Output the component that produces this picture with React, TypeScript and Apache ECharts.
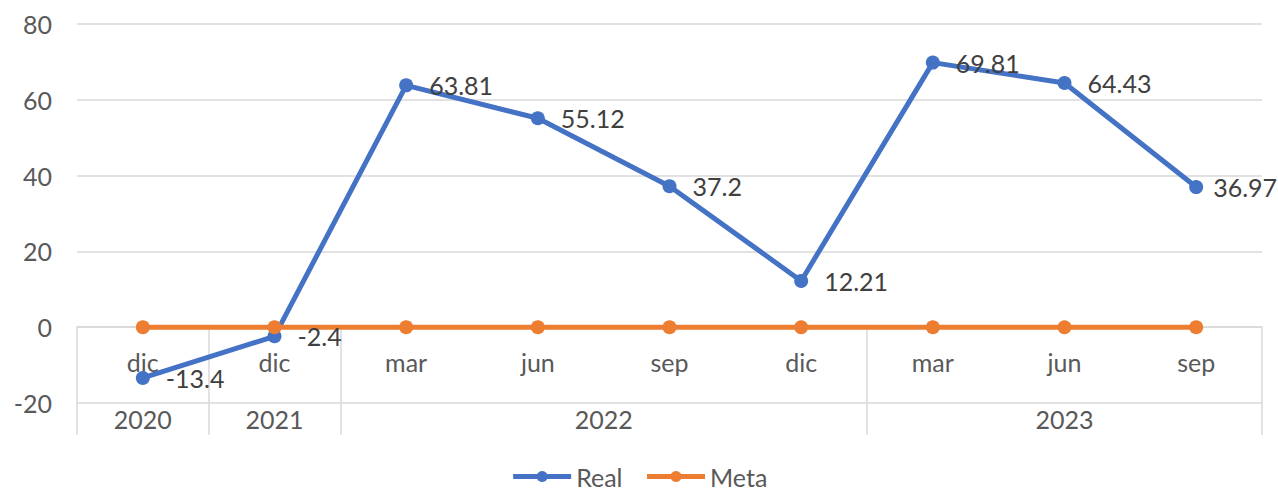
import React, { useEffect, useRef } from "react";
import * as echarts from "echarts";

const months = ["dic", "dic", "mar", "jun", "sep", "dic", "mar", "jun", "sep"];
const years = ["2020", "2021", "2022", "2023"];
const yearCounts = [1, 1, 4, 3];
const realValues = [-13.4, -2.4, 63.81, 55.12, 37.2, 12.21, 69.81, 64.43, 36.97];
const metaValues = [0, 0, 0, 0, 0, 0, 0, 0, 0];
const yTicks = { min: -20, max: 80, interval: 20 };

const FONT = "Lato, 'Noto Sans', sans-serif";
const GRAY = "#d9d9d9";
const FS = 25;

export default function App() {
  const ref = useRef<HTMLDivElement>(null);
  useEffect(() => {
    if (!ref.current) return;
    const chart = echarts.init(ref.current, null, { renderer: "svg" });
    const boundaries: number[] = [0];
    const centers: number[] = [];
    let acc = 0;
    yearCounts.forEach((c) => {
      centers.push(acc + c / 2);
      acc += c;
      boundaries.push(acc);
    });
    const total = months.length;
    const gridTop = 24;
    const gridBottom = 89;
    const plotH = 492 - gridTop - gridBottom;
    const zeroOffset = -plotH * (0 - yTicks.min) / (yTicks.max - yTicks.min);
    const realData = realValues.map((v, i) =>
      i === realValues.length - 1 ? { value: v, label: { distance: 10 } } : v
    );
    chart.setOption({
      animation: false,
      textStyle: { fontFamily: FONT },
      grid: { left: 77, right: 16, top: gridTop, bottom: gridBottom },
      legend: {
        top: 464,
        left: "center",
        padding: 0,
        itemWidth: 58,
        itemHeight: 14,
        itemGap: 22,
        lineStyle: { width: 5 },
        textStyle: { fontSize: FS, lineHeight: 22, color: "#595959", fontFamily: FONT },
        data: ["Real", "Meta"],
      },
      xAxis: [
        {
          type: "category",
          data: months,
          boundaryGap: true,
          position: "bottom",
          offset: zeroOffset,
          axisLine: { show: true, onZero: false, lineStyle: { color: GRAY, width: 1.5 } },
          axisTick: { show: false },
          axisLabel: { margin: 22, fontSize: FS, color: "#595959", fontFamily: FONT },
          splitLine: { show: false },
        },
        {
          type: "value",
          min: 0,
          max: total,
          position: "bottom",
          axisLine: { show: false, onZero: false },
          axisTick: {
            show: true,
            customValues: boundaries,
            length: 32,
            lineStyle: { color: GRAY, width: 1.5 },
          },
          axisLabel: {
            show: true,
            customValues: centers,
            margin: 3,
            fontSize: FS,
            color: "#595959",
            fontFamily: FONT,
            formatter: (v: number) => {
              const i = centers.findIndex((c) => Math.abs(c - v) < 1e-6);
              return i >= 0 ? years[i] : "";
            },
          },
          splitLine: { show: false },
        },
        {
          type: "value",
          min: 0,
          max: total,
          position: "bottom",
          axisLine: { show: false, onZero: false },
          axisTick: {
            show: true,
            inside: true,
            customValues: boundaries,
            length: -zeroOffset,
            lineStyle: { color: GRAY, width: 1.5 },
          },
          axisLabel: { show: false },
          splitLine: { show: false },
        },
      ],
      yAxis: {
        type: "value",
        min: yTicks.min,
        max: yTicks.max,
        interval: yTicks.interval,
        axisLine: { show: false },
        axisTick: { show: false },
        axisLabel: { margin: 25, fontSize: FS, color: "#595959", fontFamily: FONT },
        splitLine: { lineStyle: { color: GRAY, width: 1.5 } },
      },
      series: [
        {
          name: "Real",
          type: "line",
          data: realData,
          xAxisIndex: 0,
          symbol: "circle",
          symbolSize: 14,
          itemStyle: { color: "#4472c4" },
          lineStyle: { color: "#4472c4", width: 5 },
          label: {
            show: true,
            position: "right",
            distance: 16,
            fontSize: FS,
            color: "#404040",
            fontFamily: FONT,
          },
        },
        {
          name: "Meta",
          type: "line",
          data: metaValues,
          xAxisIndex: 0,
          symbol: "circle",
          symbolSize: 14,
          itemStyle: { color: "#ed7d31" },
          lineStyle: { color: "#ed7d31", width: 5 },
          label: { show: false },
        },
      ],
    });
    return () => chart.dispose();
  }, []);
  return (
    <div
      ref={ref}
      style={{ position: "fixed", left: 0, top: 0, width: 1278, height: 492, background: "#fff" }}
    />
  );
}
